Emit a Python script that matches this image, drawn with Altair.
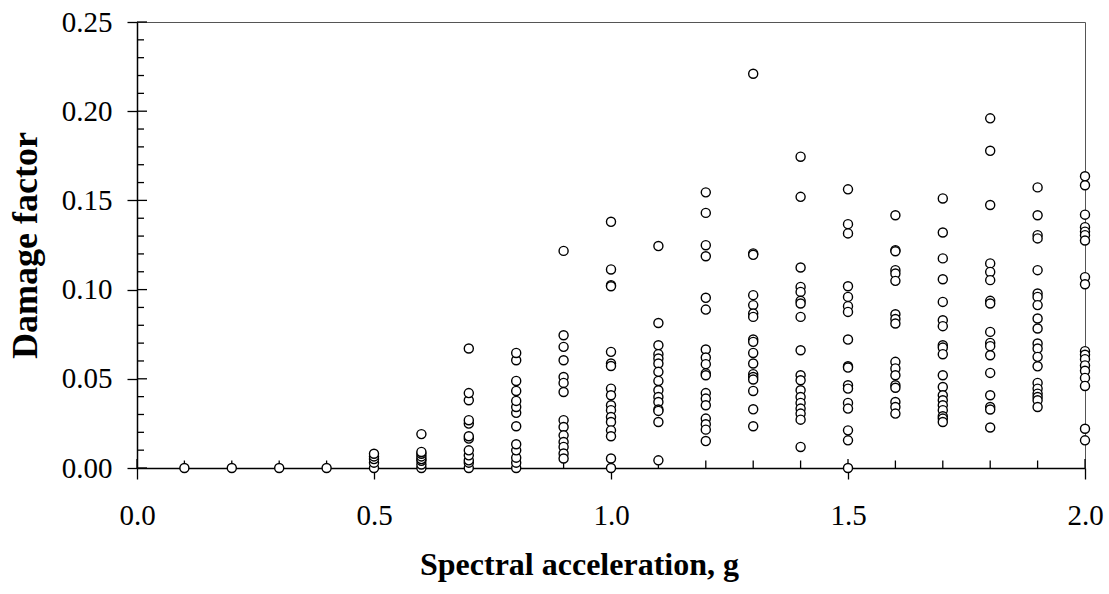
import altair as alt
import pandas as pd

# Damage factor observed at each spectral acceleration level (g)
sa_levels = [0.1, 0.2, 0.3, 0.4, 0.5, 0.6, 0.7, 0.8, 0.9, 1.0,
             1.1, 1.2, 1.3, 1.4, 1.5, 1.6, 1.7, 1.8, 1.9, 2.0]

df_01 = [0.0]
df_02 = [0.0]
df_03 = [0.0]
df_04 = [0.0]
df_05 = [0.0, 0.003, 0.005, 0.0065, 0.008]
df_06 = [0.0, 0.002, 0.004, 0.005, 0.0065, 0.008, 0.009, 0.019]
df_07 = [0.0, 0.003, 0.0043, 0.0071, 0.0099, 0.0165, 0.0178, 0.0249, 0.0268,
         0.038, 0.042, 0.067]
df_08 = [0.0, 0.003, 0.0058, 0.0099, 0.0133, 0.0234, 0.0309, 0.0342, 0.0376,
         0.0432, 0.0488, 0.0604, 0.0645]
df_09 = [0.1217, 0.0744, 0.0679, 0.0604, 0.051, 0.0477, 0.0426, 0.0268, 0.023,
         0.0183, 0.0146, 0.0118, 0.0081, 0.0053]
df_10 = [0.138, 0.1113, 0.1025, 0.1019, 0.0651, 0.0586, 0.0572, 0.0445, 0.0408,
         0.0352, 0.0324, 0.0286, 0.0258, 0.0211, 0.0178, 0.0053, 0.0]
df_11 = [0.1244, 0.0813, 0.0688, 0.0638, 0.0614, 0.0586, 0.0539, 0.0488, 0.0436,
         0.0398, 0.037, 0.0328, 0.032, 0.0258, 0.0043]
df_12 = [0.1545, 0.143, 0.1249, 0.1187, 0.0954, 0.0888, 0.0664, 0.0619, 0.0582,
         0.053, 0.052, 0.042, 0.0389, 0.0352, 0.0277, 0.0245, 0.0215, 0.0151]
df_13 = [0.221, 0.1203, 0.1195, 0.0969, 0.0913, 0.0866, 0.0847, 0.072, 0.0707,
         0.0645, 0.0586, 0.0526, 0.051, 0.0496, 0.0432, 0.0329, 0.0234]
df_14 = [0.1745, 0.152, 0.1124, 0.1015, 0.0987, 0.0937, 0.0922, 0.0847, 0.066,
         0.052, 0.0492, 0.0436, 0.0398, 0.0365, 0.0333, 0.0305, 0.0271, 0.0118]
df_15 = [0.1562, 0.1367, 0.1315, 0.1019, 0.0959, 0.0907, 0.0875, 0.072, 0.057,
         0.0563, 0.0464, 0.0445, 0.0365, 0.0333, 0.0211, 0.0155, 0.0]
df_16 = [0.1417, 0.1221, 0.1215, 0.1109, 0.109, 0.1049, 0.0862, 0.0835, 0.081,
         0.0595, 0.0558, 0.052, 0.0464, 0.045, 0.037, 0.0342, 0.0305]
df_17 = [0.1511, 0.132, 0.1175, 0.1058, 0.0931, 0.0828, 0.0795, 0.0688, 0.0675,
         0.0638, 0.052, 0.0454, 0.0408, 0.038, 0.0352, 0.0324, 0.029, 0.0277, 0.0258]
df_18 = [0.196, 0.1778, 0.1474, 0.1147, 0.1099, 0.1053, 0.0937, 0.0922, 0.0763,
         0.0701, 0.0683, 0.0632, 0.0533, 0.0408, 0.0342, 0.0328, 0.0227]
df_19 = [0.1573, 0.1417, 0.1305, 0.1287, 0.1109, 0.0978, 0.0959, 0.0913, 0.0838,
         0.0782, 0.0698, 0.067, 0.0623, 0.057, 0.0477, 0.0445, 0.0417, 0.0398,
         0.038, 0.0342]
df_20 = [0.1635, 0.1585, 0.142, 0.135, 0.1325, 0.1305, 0.1275, 0.107, 0.103,
         0.0655, 0.0635, 0.061, 0.0575, 0.0545, 0.0505, 0.046, 0.022, 0.0155]

columns = [df_01, df_02, df_03, df_04, df_05, df_06, df_07, df_08, df_09, df_10,
           df_11, df_12, df_13, df_14, df_15, df_16, df_17, df_18, df_19, df_20]

# Axis tick positions
x_major = [0.0, 0.5, 1.0, 1.5, 2.0]
x_minor = [0.1, 0.2, 0.3, 0.4, 0.6, 0.7, 0.8, 0.9, 1.1, 1.2, 1.3, 1.4,
           1.6, 1.7, 1.8, 1.9]
y_major = [0.0, 0.05, 0.10, 0.15, 0.20, 0.25]
y_minor = [0.01, 0.02, 0.03, 0.04, 0.06, 0.07, 0.08, 0.09, 0.11, 0.12, 0.13,
           0.14, 0.16, 0.17, 0.18, 0.19, 0.21, 0.22, 0.23, 0.24]

points = pd.DataFrame(
    [{"sa": sa, "df": v} for sa, vals in zip(sa_levels, columns) for v in vals]
)

W, H = 948, 446
FONT = "Liberation Serif"

x_scale = alt.Scale(domain=[0, 2], nice=False, zero=False)
y_scale = alt.Scale(domain=[0, 0.25], nice=False)

x_axis = alt.Axis(
    values=x_major, format=".1f", grid=False,
    domainColor="black", domainWidth=1.5,
    tickColor="black", tickWidth=1.3, tickSize=11,
    labelFont=FONT, labelFontSize=29, labelColor="black", labelPadding=22,
    labelFlush=False,
    title="Spectral acceleration, g", titleFont=FONT, titleFontSize=32,
    titleFontWeight="bold", titleColor="black",
    titleX=442, titleY=106, titleBaseline="alphabetic", titleAlign="center",
)
y_axis = alt.Axis(
    values=y_major, format=".2f", grid=False,
    domainColor="black", domainWidth=1.5,
    tickColor="black", tickWidth=1.3, tickSize=10,
    labelFont=FONT, labelFontSize=29, labelColor="black", labelPadding=15,
    labelFlush=False,
    title="Damage factor", titleFont=FONT, titleFontSize=36,
    titleFontWeight="bold", titleColor="black",
    titleAngle=270, titleX=-101, titleY=H / 2, titleBaseline="alphabetic",
    titleAlign="center",
)

x_enc = alt.X("sa:Q", scale=x_scale, axis=x_axis)
y_enc = alt.Y("df:Q", scale=y_scale, axis=y_axis)

tick_style = dict(color="black", strokeWidth=1.3)

# Inward tick marks on the vertical axis
y_major_in = alt.Chart(pd.DataFrame({"df": y_major})).mark_rule(**tick_style).encode(
    y=y_enc, x=alt.value(0), x2=alt.value(10)
)
y_minor_in = alt.Chart(pd.DataFrame({"df": y_minor})).mark_rule(**tick_style).encode(
    y=y_enc, x=alt.value(0), x2=alt.value(7)
)
# Inward tick marks on the horizontal axis
x_major_in = alt.Chart(pd.DataFrame({"sa": x_major})).mark_rule(**tick_style).encode(
    x=x_enc, y=alt.value(H), y2=alt.value(H - 9)
)
x_minor_in = alt.Chart(pd.DataFrame({"sa": x_minor})).mark_rule(**tick_style).encode(
    x=x_enc, y=alt.value(H), y2=alt.value(H - 7.5)
)

scatter = alt.Chart(points).mark_point(
    shape="circle", filled=True, fill="white", stroke="black",
    strokeWidth=1.4, size=82, opacity=1,
).encode(x=x_enc, y=y_enc)

chart = (
    alt.layer(y_major_in, y_minor_in, x_major_in, x_minor_in, scatter)
    .properties(
        width=W, height=H,
        autosize=alt.AutoSizeParams(type="none"),
        padding={"left": 137, "top": 22, "right": 24, "bottom": 126},
        background="white",
    )
    .configure_view(stroke="#555555", strokeWidth=1)
)

chart.save("out.html", embed_options={"renderer": "svg", "actions": False})
